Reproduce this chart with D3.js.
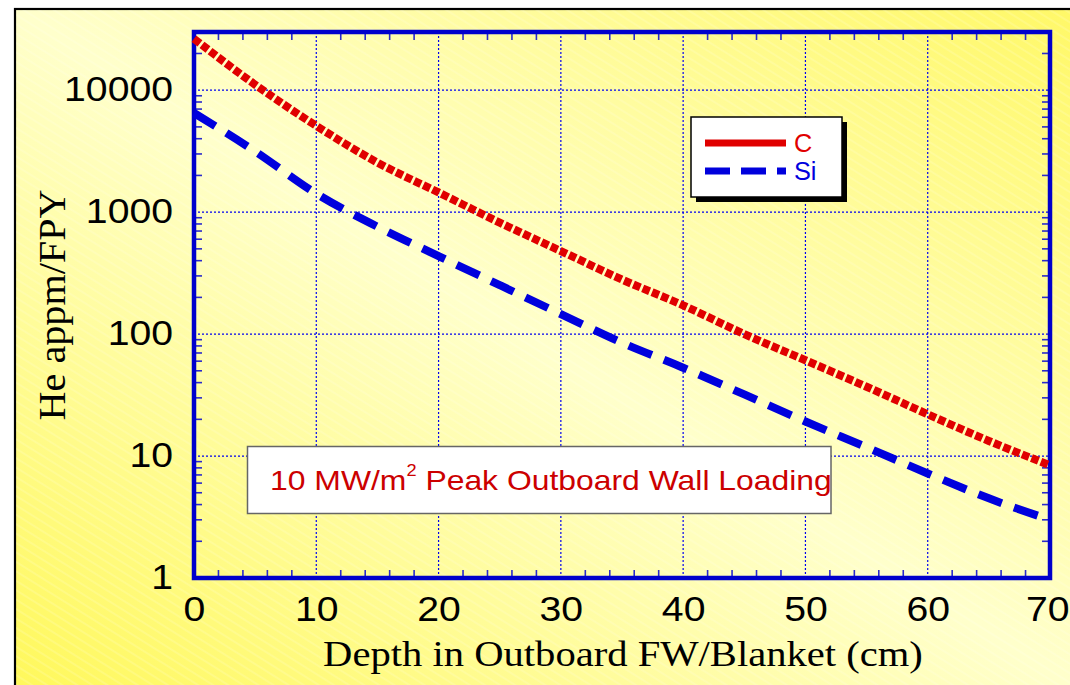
<!DOCTYPE html>
<html>
<head>
<meta charset="utf-8">
<script src="https://cdn.jsdelivr.net/npm/d3@7"></script>
<style>
  html, body { margin: 0; padding: 0; background: #ffffff; }
  svg { display: block; }
</style>
</head>
<body>
<svg id="chart" width="1070" height="685"></svg>
<script>
// ---- data ----
const depth = [0, 5, 10, 15, 20, 25, 30, 35, 40, 45, 50, 55, 60, 65, 70];
const heC   = [26400, 11100, 5100, 2550, 1450, 820, 480, 280, 172, 100, 61, 37, 22, 13.3, 8.4];
const heSi  = [6500, 3150, 1420, 760, 436, 252, 146, 85, 53, 32, 19.2, 11.8, 7.2, 4.5, 3.0];
const seriesNames = ["C", "Si"];
const xTickValues = [0, 10, 20, 30, 40, 50, 60, 70];
const yTickValues = [1, 10, 100, 1000, 10000];
const xTitle = "Depth in Outboard FW/Blanket (cm)";
const yTitle = "He appm/FPY";
const noteMain = "10 MW/m";
const noteSup = "2";
const noteRest = " Peak Outboard Wall Loading";

// ---- layout ----
const W = 1070, H = 685;
const x0 = 194, x1 = 1050, yTop = 32, yBot = 578;
const RED = "#e00000", BLUE = "#0000dd", AXIS = "#0000cc";

const svg = d3.select("#chart");
const defs = svg.append("defs");

const grad = defs.append("linearGradient").attr("id", "bg")
  .attr("x1", 0).attr("y1", 1).attr("x2", 1).attr("y2", 0);
grad.append("stop").attr("offset", 0).attr("stop-color", "#fff85a");
grad.append("stop").attr("offset", 0.5).attr("stop-color", "#ffffcc");
grad.append("stop").attr("offset", 1).attr("stop-color", "#fff866");

const pat = defs.append("pattern").attr("id", "stripes")
  .attr("width", 8).attr("height", 8)
  .attr("patternUnits", "userSpaceOnUse")
  .attr("patternTransform", "rotate(32)");
pat.append("line").attr("x1", 0).attr("y1", 4).attr("x2", 8).attr("y2", 4)
  .attr("stroke", "#ffffff").attr("stroke-opacity", 0.28).attr("stroke-width", 1);

defs.append("clipPath").attr("id", "noteClip")
  .append("rect").attr("x", 247.5).attr("y", 446.5).attr("width", 583.5).attr("height", 67);

// background
svg.append("rect").attr("width", W).attr("height", H).attr("fill", "#ffffff");
svg.append("rect").attr("x", 15).attr("y", 9).attr("width", W).attr("height", H)
  .attr("fill", "url(#bg)").attr("stroke", "#000").attr("stroke-width", 2.2);
svg.append("rect").attr("x", 16).attr("y", 10).attr("width", W).attr("height", H)
  .attr("fill", "url(#stripes)");

// scales
const x = d3.scaleLinear().domain([0, 70]).range([x0, x1]);
const y = d3.scaleLog().domain([1, 30000]).range([yBot, yTop]);

// grid
const grid = svg.append("g").attr("stroke", "#0000ee").attr("stroke-width", 1.2)
  .attr("stroke-dasharray", "2,2");
grid.selectAll("line.vx").data(xTickValues.filter(d => d > 0 && d < 70)).join("line")
  .attr("x1", d => x(d)).attr("x2", d => x(d)).attr("y1", yTop).attr("y2", yBot);
grid.selectAll("line.hy").data(yTickValues.filter(d => d > 1)).join("line")
  .attr("y1", d => y(d)).attr("y2", d => y(d)).attr("x1", x0).attr("x2", x1);

// minor ticks
const xMinor = d3.range(2, 70, 2).filter(d => d % 10 !== 0);
const yMinor = [];
[1, 10, 100, 1000, 10000].forEach(dec => {
  for (let m = 2; m <= 9; m++) { const v = m * dec; if (v < 30000) yMinor.push(v); }
});
const ticks = svg.append("g").attr("stroke", "#2a2acc").attr("stroke-width", 1.6);
ticks.selectAll("line.xb").data(xMinor).join("line")
  .attr("x1", d => x(d)).attr("x2", d => x(d)).attr("y1", yBot).attr("y2", yBot - 8);
ticks.selectAll("line.xt").data(xMinor).join("line")
  .attr("x1", d => x(d)).attr("x2", d => x(d)).attr("y1", yTop).attr("y2", yTop + 8);
ticks.selectAll("line.yl").data(yMinor).join("line")
  .attr("y1", d => y(d)).attr("y2", d => y(d)).attr("x1", x0).attr("x2", x0 + 8);
ticks.selectAll("line.yr").data(yMinor).join("line")
  .attr("y1", d => y(d)).attr("y2", d => y(d)).attr("x1", x1).attr("x2", x1 - 8);

// frame
svg.append("rect").attr("x", x0).attr("y", yTop).attr("width", x1 - x0).attr("height", yBot - yTop)
  .attr("fill", "none").attr("stroke", AXIS).attr("stroke-width", 4.5);

// axes labels via d3 axes
const sx = 1.12;
const yAxis = svg.append("g").attr("transform", `translate(${x0},0)`)
  .call(d3.axisLeft(y).tickValues(yTickValues).tickFormat(d3.format("d")).tickSize(0));
yAxis.select(".domain").remove();
yAxis.selectAll("text")
  .attr("font-family", "Liberation Sans, Arial, sans-serif").attr("font-size", 35)
  .attr("fill", "#000").attr("text-anchor", "end")
  .attr("x", -(x0 - 173) / sx).attr("dy", "10px")
  .attr("transform", `scale(${sx},1)`);

const xAxis = svg.append("g").attr("transform", `translate(0,${yBot})`)
  .call(d3.axisBottom(x).tickValues(xTickValues).tickFormat(d3.format("d")).tickSize(0));
xAxis.select(".domain").remove();
xAxis.selectAll("text")
  .attr("font-family", "Liberation Sans, Arial, sans-serif").attr("font-size", 35)
  .attr("fill", "#000").attr("y", 43).attr("dy", 0)
  .attr("transform", `scale(${sx},1)`);
// keep the last label inside the page edge
xAxis.selectAll("text").filter(d => d === 70)
  .attr("text-anchor", "end").attr("x", (W - 1 - x1) / sx);

// titles
const xt = svg.append("text").text(xTitle)
  .attr("font-family", "Liberation Serif, Times New Roman, serif").attr("font-size", 36)
  .attr("text-anchor", "middle").attr("fill", "#000");
const xtLen = xt.node().getComputedTextLength();
xt.attr("transform", `translate(${(x0 + x1) / 2 + 1},666) scale(${600 / xtLen},1)`);

const yt = svg.append("text").text(yTitle)
  .attr("font-family", "Liberation Serif, Times New Roman, serif").attr("font-size", 38)
  .attr("text-anchor", "middle").attr("fill", "#000");
const ytLen = yt.node().getComputedTextLength();
yt.attr("transform", `translate(65,${(yTop + yBot) / 2}) rotate(-90) scale(${231 / ytLen},1)`);

// series
const line = d3.line().x((d, i) => x(depth[i])).y(d => y(d)).curve(d3.curveMonotoneX);
svg.append("path").datum(heSi).attr("d", line)
  .attr("fill", "none").attr("stroke", BLUE).attr("stroke-width", 8)
  .attr("stroke-dasharray", "25,13");
svg.append("path").datum(heC).attr("d", line)
  .attr("fill", "none").attr("stroke", RED).attr("stroke-width", 8)
  .attr("stroke-dasharray", "7.5,2.6");

// legend
const lg = svg.append("g");
lg.append("rect").attr("x", 696).attr("y", 122).attr("width", 151).attr("height", 80).attr("fill", "#000");
lg.append("rect").attr("x", 691).attr("y", 117).attr("width", 151).attr("height", 80)
  .attr("fill", "#fff").attr("stroke", "#000").attr("stroke-width", 1.5);
const legendItems = [
  { name: seriesNames[0], color: RED, dash: null, ly: 143, ty: 152 },
  { name: seriesNames[1], color: BLUE, dash: "25,11", ly: 171, ty: 180 }
];
legendItems.forEach(it => {
  lg.append("line").attr("x1", 705).attr("x2", 786).attr("y1", it.ly).attr("y2", it.ly)
    .attr("stroke", it.color).attr("stroke-width", 7)
    .attr("stroke-dasharray", it.dash);
  const t = lg.append("text").attr("x", 0).attr("y", 0).text(it.name)
    .attr("font-family", "Liberation Sans, Arial, sans-serif").attr("font-size", 23)
    .attr("fill", it.color)
    .attr("transform", `translate(794,${it.ty}) scale(1.1,1.12)`);
});

// annotation
svg.append("rect").attr("x", 247.5).attr("y", 446.5).attr("width", 583.5).attr("height", 67)
  .attr("fill", "#fff").attr("stroke", "#666").attr("stroke-width", 1.5);
const note = svg.append("g").attr("clip-path", "url(#noteClip)")
  .append("text")
  .attr("font-family", "Liberation Sans, Arial, sans-serif").attr("font-size", 28)
  .attr("fill", "#cc0000");
note.append("tspan").text(noteMain);
note.append("tspan").text(noteSup).attr("font-size", 16).attr("dy", -14);
note.append("tspan").text(noteRest).attr("dy", 14);
const nLen = note.node().getComputedTextLength();
note.attr("transform", `translate(270,490) scale(${562 / nLen},1)`);
</script>
</body>
</html>
